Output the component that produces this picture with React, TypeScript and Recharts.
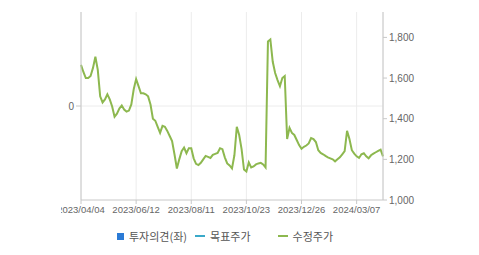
import React from 'react'
import { LineChart, Line, XAxis, YAxis, CartesianGrid } from 'recharts'

const tickLabels = ['2023/04/04', '2023/06/12', '2023/08/11', '2023/10/23', '2023/12/26', '2024/03/07']
const tickIndex = [0, 23, 46, 69, 92, 115]
const priceTicks = [1000, 1200, 1400, 1600, 1800]
const opinionTicks = [0]

// 수정주가, roughly every second trading day
const adjPrice = [
  1665, 1630, 1600, 1600, 1610, 1650, 1705, 1640, 1510, 1480,
  1495, 1520, 1495, 1460, 1410, 1425, 1450, 1465, 1445, 1435,
  1440, 1470, 1545, 1595, 1560, 1525, 1525, 1520, 1510, 1470,
  1400, 1390, 1360, 1330, 1365, 1360, 1340, 1315, 1290, 1225,
  1155, 1200, 1240, 1258, 1230, 1255, 1255, 1205, 1178, 1172,
  1183, 1200, 1217, 1212, 1207, 1222, 1227, 1232, 1255, 1250,
  1210, 1180, 1170, 1155, 1220, 1360, 1320, 1250, 1150, 1140,
  1185, 1160, 1165, 1175, 1180, 1183, 1175, 1160, 1780, 1790,
  1680, 1625, 1590, 1560, 1600, 1610, 1300, 1355, 1330, 1320,
  1295, 1270, 1252, 1262, 1268, 1278, 1305, 1300, 1285, 1245,
  1232, 1225, 1217, 1210, 1205, 1200, 1190, 1200, 1210, 1225,
  1240, 1340, 1300, 1245, 1228, 1215, 1207, 1225, 1230, 1215,
  1205, 1220, 1228, 1235, 1242, 1248, 1215,
]

const chartData = adjPrice.map((price, i) => ({ idx: i, price, opinion: null }))

const tickStyle = { fontSize: 10, fill: '#666', fontFamily: '"Liberation Sans", Arial, sans-serif' }

const App: React.FC = () => {
  return (
    <div style={{ position: 'absolute', left: 0, top: 0, width: 479, height: 255, background: '#fff' }}>
      <div style={{ position: 'absolute', left: 61, top: 0, width: 418, height: 255, overflow: 'hidden' }}>
        <div style={{ position: 'absolute', left: -61, top: 0 }}>
          <LineChart width={479} height={255} data={chartData} margin={{ top: 12, right: 0, left: 0, bottom: 0 }}>
            <CartesianGrid stroke="#ececec" yAxisId="opinion" horizontalPoints={[106]} />
            <XAxis
              dataKey="idx"
              type="number"
              domain={[0, 126]}
              ticks={tickIndex}
              tickFormatter={(v: number) => tickLabels[tickIndex.indexOf(v)] ?? ''}
              height={55}
              stroke="#c8c8c8"
              tickSize={4}
              tick={{ ...tickStyle, fontSize: 9.5 }}
              interval={0}
            />
            <XAxis xAxisId="top" orientation="top" dataKey="idx" type="number" domain={[0, 126]} height={0} tick={false} stroke="#c8c8c8" />
            <YAxis
              yAxisId="opinion"
              orientation="left"
              type="number"
              domain={[-1, 1]}
              allowDataOverflow
              ticks={opinionTicks}
              interval={0}
              width={81}
              stroke="#c8c8c8"
              tickSize={5}
              tick={tickStyle}
            />
            <YAxis
              yAxisId="price"
              orientation="right"
              domain={[1000, 1925]}
              ticks={priceTicks}
              width={96}
              stroke="#c8c8c8"
              tickSize={4}
              tick={{ ...tickStyle, textAnchor: 'start' }}
              tickFormatter={(v: number) => v.toLocaleString('en-US')}
            />
            <Line
              yAxisId="opinion"
              dataKey="opinion"
              stroke="#2b7bd6"
              dot={false}
              legendType="none"
              isAnimationActive={false}
            />
            <Line
              yAxisId="price"
              type="linear"
              dataKey="price"
              stroke="#8db84f"
              strokeWidth={2}
              dot={false}
              isAnimationActive={false}
            />
          </LineChart>
        </div>
      </div>
      <div
        style={{
          position: 'absolute',
          top: 228,
          left: 117,
          display: 'flex',
          alignItems: 'center',
          fontSize: 11,
          color: '#555',
          fontFamily: '"Noto Sans CJK KR", "Noto Sans", sans-serif',
          whiteSpace: 'nowrap',
        }}
      >
        <span style={{ display: 'inline-block', width: 7, height: 7, background: '#2b7bd6', marginRight: 5 }} />
        <span>투자의견(좌)</span>
        <span style={{ display: 'inline-block', width: 10, height: 2, background: '#3aa9c9', marginLeft: 8, marginRight: 5 }} />
        <span>목표주가</span>
        <span style={{ display: 'inline-block', width: 10, height: 2, background: '#8db84f', marginLeft: 27, marginRight: 5 }} />
        <span>수정주가</span>
      </div>
    </div>
  )
}

export default App
